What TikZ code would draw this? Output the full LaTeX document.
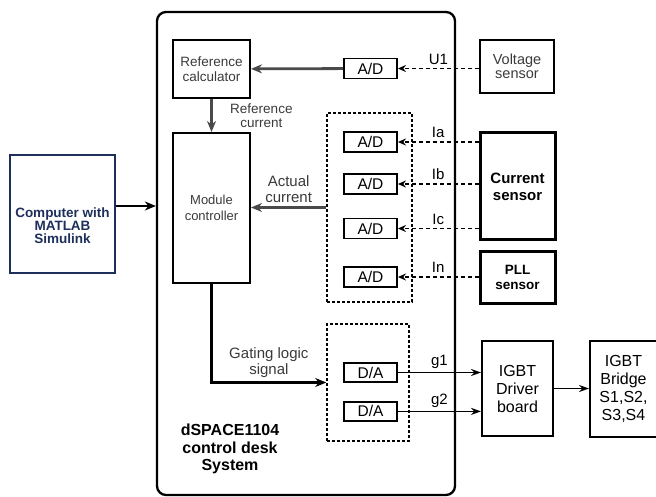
\documentclass[tikz,border=0pt]{standalone}
\usepackage{fontspec}
\setmainfont{Liberation Sans}
\usetikzlibrary{positioning, arrows.meta}
\definecolor{navy}{HTML}{1F2F5C}
\definecolor{darkgr}{HTML}{4A4A4A}
\definecolor{txtgr}{HTML}{3A3A3A}

\begin{document}
\begin{tikzpicture}[x=1pt, y=-1pt,
  node distance=18pt and 35pt,
  block/.style={rectangle, draw, line width=2pt, align=center,
                font=\fontsize{16}{18}\selectfont},
  conv/.style={rectangle, draw, line width=1.9pt, minimum width=53pt,
               minimum height=20pt, font=\fontsize{15.5}{16}\selectfont},
  sensor/.style={rectangle, draw, line width=3pt, align=center,
                 minimum width=75pt, font=\bfseries\fontsize{15}{17}\selectfont},
  group/.style={rectangle, draw, line width=1.6pt, dash pattern=on 3pt off 2pt},
  lbl/.style={font=\fontsize{15}{16}\selectfont, align=center, text=txtgr},
  sig/.style={-{Stealth[length=8pt,width=7pt]}, line width=1.6pt,
              dash pattern=on 4pt off 3pt},
  garr/.style={-{Stealth[length=11pt,width=9pt]}, line width=2.8pt, darkgr},
  karr/.style={-{Stealth[length=11pt,width=9pt]}, line width=2.8pt},
  tarr/.style={-{Stealth[length=10pt,width=7pt]}, line width=1.7pt}
]
  \useasboundingbox (0,0) rectangle (656,497);

  % dSPACE board
  \node[draw, line width=2.3pt, rounded corners=9pt,
        minimum width=298pt, minimum height=483pt] (dspace) at (306,253.5) {};
  \node[font=\bfseries\fontsize{16}{17.5}\selectfont, align=center]
        (dsName) at (230,449) {dSPACE1104\\control desk\\System};

  \node[block, text=txtgr, font=\fontsize{13.5}{15}\selectfont,
        minimum width=77pt, minimum height=58pt] (refCalc) at (211.5,69) {Reference\\calculator};
  \node[block, text=txtgr, font=\fontsize{13}{16}\selectfont,
        minimum width=77pt, minimum height=150pt] (modCtrl) at (211.5,208) {Module\\controller};

  \node[conv] (adU1) at (370.5,68.5) {A/D};
  \node[group, minimum width=85pt, minimum height=189pt] (adGroup) at (369.5,207.5) {};
  \node[conv] (adIa) at (370.5,142) {A/D};
  \node[conv] (adIb) at (370.5,184) {A/D};
  \node[conv] (adIc) at (370.5,228.5) {A/D};
  \node[conv] (adIn) at (370.5,277) {A/D};

  \node[group, minimum width=82pt, minimum height=117pt] (daGroup) at (368,382.5) {};
  \node[conv, minimum height=19pt] (da1) at (370.5,372.5) {D/A};
  \node[conv, minimum height=19pt, below=18pt of da1] (da2) {D/A};

  % sensors and power side
  \node[block, text=txtgr, font=\fontsize{14.5}{14}\selectfont,
        minimum width=74pt, minimum height=53pt] (voltSens) at (517,66.5) {Voltage\\sensor};
  \node[sensor, minimum height=107pt] (curSens) at (517.5,186.5) {Current\\sensor};
  \node[sensor, font=\bfseries\fontsize{13.5}{15}\selectfont,
        minimum height=51pt] (pllSens) at (517.5,277.5) {PLL\\sensor};

  \node[block, minimum width=71pt, minimum height=95pt] (drvBoard) at (517.5,388.5) {IGBT\\Driver\\board};
  \node[block, minimum width=67pt, minimum height=96pt, right=35pt of drvBoard] (igbtBridge) {IGBT\\Bridge\\S1,S2,\\S3,S4};

  \node[block, draw=navy, line width=2.6pt, minimum width=105pt, minimum height=118pt,
        label={[yshift=-12pt, text=navy, align=center,
                font=\bfseries\fontsize{13.5}{13}\selectfont]center:Computer with\\MATLAB\\Simulink}]
        (pc) at (62.5,214) {};

  % edges
  \draw[karr] ([yshift=8pt]pc.east) -- ([yshift=8pt]pc.east -| dspace.west);
  \draw[garr] (adU1) -- (refCalc);
  \draw[garr] (refCalc) -- node[lbl, right=14pt, font=\fontsize{13.5}{14}\selectfont]{Reference\\current} (modCtrl);
  \draw[garr] (adGroup.west) -- node[lbl, above]{Actual\\current} (adGroup.west -| modCtrl.east);
  \draw[karr] (modCtrl.south) |- node[lbl, pos=0.75, above]{Gating logic\\signal} (daGroup.west);

  \draw[sig] (voltSens.west |- adU1) -- node[lbl, above, text=black]{U1} (adU1);
  \draw[sig] (curSens.west |- adIa) -- node[lbl, above, text=black]{Ia} (adIa);
  \draw[sig] (curSens.west |- adIb) -- node[lbl, above, text=black]{Ib} (adIb);
  \draw[sig] (curSens.west |- adIc) -- node[lbl, above, text=black]{Ic} (adIc);
  \draw[sig] (pllSens.west |- adIn) -- node[lbl, above, text=black]{In} (adIn);

  \draw[tarr] (da1) -- node[lbl, above, text=black]{g1} (drvBoard.west |- da1);
  \draw[tarr] (da2) -- node[lbl, above, text=black]{g2} (drvBoard.west |- da2);
  \draw[tarr] (drvBoard) -- (igbtBridge);
\end{tikzpicture}
\end{document}
